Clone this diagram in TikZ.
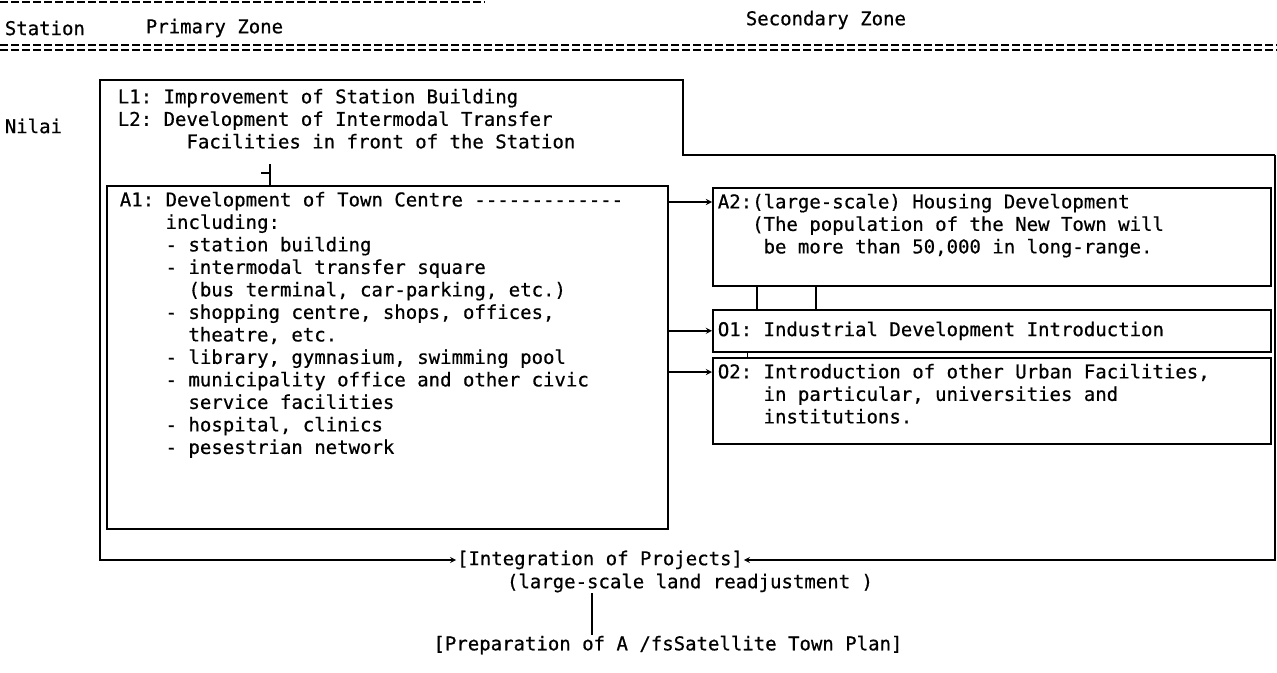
\documentclass[tikz,border=0pt]{standalone}
\usepackage{fontspec}
\setmonofont[FakeBold=0.6]{DejaVu Sans Mono}
\usetikzlibrary{positioning}

\begin{document}
\begin{tikzpicture}[>=stealth,x=1pt,y=-1pt,line width=1.7pt,
  txt/.style={font=\ttfamily\fontsize{19}{22.5}\selectfont,inner sep=0pt,align=left},
  box/.style={draw,inner sep=0pt,anchor=north west},
  rule/.style={line width=1.4pt,dash pattern=on 8pt off 3pt}]

  \useasboundingbox (0,0) rectangle (1277,672);

  % header
  \draw[rule,line width=2.5pt] (0,2) -- (485,2);
  \node[txt,anchor=west] (stn) at (4,28) {Station};
  \node[txt,anchor=west] (pz) at (145,28) {Primary Zone};
  \node[txt,anchor=west] (sz) at (745,20) {Secondary Zone};
  \draw[rule] (0,45) -- (1277,45);
  \draw[rule] (0,50) -- (1277,50);

  \node[txt,anchor=west] (nilai) at (4,126) {Nilai};

  % outer frame
  \coordinate (fnw) at (100,80);
  \coordinate (lne) at (683,80);
  \coordinate (stepl) at (683,155);
  \coordinate (stepr) at (1275,155);
  \node[txt,anchor=north west] (ltext) at (117,88)
    {L1: Improvement of Station Building\\
     L2: Development of Intermodal Transfer\\
     \phantom{L2: xx}Facilities in front of the Station};

  % primary zone
  \node[box,minimum width=561pt,minimum height=343pt] (a1) at (106,185) {};
  \node[txt,anchor=north west] (a1t) at (119,191)
    {A1: Development of Town Centre -------------\\
     \phantom{A1: }including:\\
     \phantom{A1: }- station building\\
     \phantom{A1: }- intermodal transfer square\\
     \phantom{A1: - }(bus terminal, car-parking, etc.)\\
     \phantom{A1: }- shopping centre, shops, offices,\\
     \phantom{A1: - }theatre, etc.\\
     \phantom{A1: }- library, gymnasium, swimming pool\\
     \phantom{A1: }- municipality office and other civic\\
     \phantom{A1: - }service facilities\\
     \phantom{A1: }- hospital, clinics\\
     \phantom{A1: }- pesestrian network};

  \coordinate (lnk) at (270,164);
  \draw (lnk) -- (lnk |- a1.north);
  \draw ([yshift=-9pt]lnk) -- ++(-9,0);

  % secondary zone
  \node[box,minimum width=558pt,minimum height=98pt] (a2) at (712,187) {};
  \node[txt,anchor=north west] (a2t) at (717,193)
    {A2:(large-scale) Housing Development\\
     \phantom{A2:}(The population of the New Town will\\
     \phantom{A2: }be more than 50,000 in long-range.};
  \node[box,minimum width=558pt,minimum height=42pt] (o1) at (712,309) {};
  \node[txt,anchor=west] (o1t) at ([xshift=5pt]o1.west) {O1: Industrial Development Introduction};
  \node[box,minimum width=558pt,minimum height=86pt] (o2) at (712,357) {};
  \node[txt,anchor=north west] (o2t) at (717,363)
    {O2: Introduction of other Urban Facilities,\\
     \phantom{O2: }in particular, universities and\\
     \phantom{O2: }institutions.};

  \coordinate (bar1) at (757,0);
  \coordinate (bar2) at (816,0);
  \coordinate (tick) at (747,0);
  \draw (a2.south -| bar1) -- (o1.north -| bar1);
  \draw (a2.south -| bar2) -- (o1.north -| bar2);
  \draw[line width=1pt] (o1.south -| tick) -- (o2.north -| tick);

  \coordinate (a2in) at ([yshift=-15pt]a2.north west);
  \coordinate (o2in) at ([yshift=-15pt]o2.north west);
  \draw[->] (a1.east |- a2in) -- (a2in);
  \draw[->] (a1.east |- o1.west) -- (o1.west);
  \draw[->] (a1.east |- o2in) -- (o2in);

  % integration
  \node[txt] (integ) at (600,560) {[Integration of Projects]};
  \node[txt] (lr) at (690,583) {(large-scale land readjustment )};
  \node[txt] (prep) at (668,645) {[Preparation of A /fsSatellite Town Plan]};
  \coordinate (barx) at (592,0);
  \draw (lr.south -| barx) -- (prep.north -| barx);

  \draw[->] (stepr) -- (stepl) -- (lne) -- (fnw) |- (integ.west);
  \draw[->] (stepr) |- (integ.east);
\end{tikzpicture}
\end{document}
